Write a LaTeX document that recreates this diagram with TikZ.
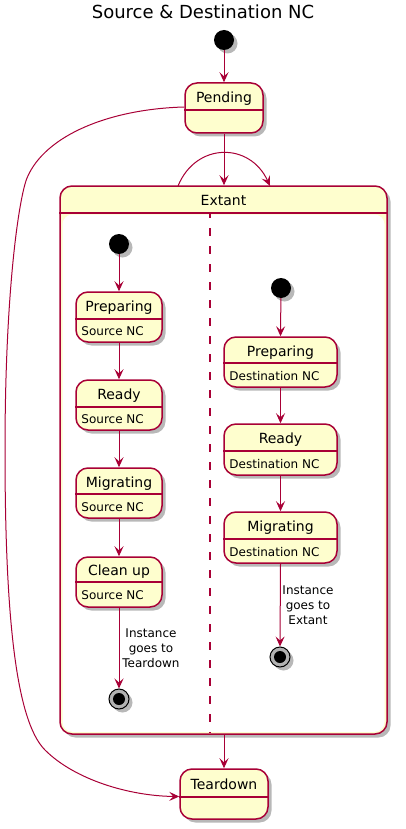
\documentclass[tikz,border=0pt]{standalone}
\usepackage{fontspec}
\setmainfont{DejaVu Sans}
\usetikzlibrary{shadows,arrows.meta}
\definecolor{pfill}{HTML}{FEFECE}
\definecolor{pline}{HTML}{A80036}
\tikzset{
  shadowed/.style={drop shadow={shadow xshift=3.5pt, shadow yshift=-3.5pt, opacity=0.28, fill=black}},
  statebox/.style={draw=pline, line width=1.5pt, fill=pfill, rounded corners=12pt, inner sep=0pt, shadowed},
  initstate/.style={circle, fill=black, minimum size=20pt, inner sep=0pt, shadowed},
  finalstate/.style={circle, draw=black, line width=1pt, fill=black!30, minimum size=20pt, inner sep=0pt, shadowed},
  finaldot/.style={circle, fill=black, minimum size=12pt, inner sep=0pt},
  trans/.style={draw=pline, line width=1pt, -{Stealth[length=10pt,width=9pt,inset=4pt]}},
  sname/.style={font=\fontsize{14}{16}\selectfont, inner sep=0pt, anchor=base},
  sbody/.style={font=\fontsize{12}{14}\selectfont, inner sep=0pt, anchor=base west},
  lbl/.style={font=\fontsize{12}{15}\selectfont, align=center, inner sep=0pt},
  sepline/.style={draw=pline, line width=1.2pt, dash pattern=on 8pt off 10pt, dash phase=4pt}
}
% name, cx, top, bottom, width, header y, title, body
\newcommand\stbox[8]{%
  \pgfmathsetmacro\stcy{(#3+#4)/2}%
  \pgfmathsetmacro\sthh{#4-#3}%
  \pgfmathsetmacro\stty{(#3+#6)/2+6}%
  \pgfmathsetmacro\stby{(#6+#4)/2+5}%
  \node[statebox, minimum width=#5pt, minimum height=\sthh pt] (#1) at (#2,\stcy) {};
  \draw[pline, line width=1.5pt] (#1.west |- 0,#6) -- (#1.east |- 0,#6);
  \node[sname] (#1-t) at (#2,\stty) {#7};
  \node[sbody] (#1-b) at ([xshift=6pt]#1.west |- 0,\stby) {#8};
}
\begin{document}
\begin{tikzpicture}[x=1pt,y=-1pt]
\useasboundingbox (0,0) rectangle (406,829);
% title
\node[font=\fontsize{18}{20}\selectfont, inner sep=0pt, anchor=base] (title) at (203,18.5) {Source \& Destination NC};

% top level
\node[initstate] (start) at (224,40) {};
\stbox{pending}{224}{83}{133}{78}{110}{Pending}{}

% Extant composite
\node[statebox, minimum width=327pt, minimum height=548pt] (extant) at (223.5,460) {};
\draw[pline, line width=1.5pt] (extant.west |- 0,213) -- (extant.east |- 0,213);
\fill[white, rounded corners=10pt] (62.5,214.5) rectangle (384.5,731.8);
\node[sname] (extant-t) at (223.5,205.5) {Extant};
\coordinate (septop) at (210,214);
\coordinate (sepbot) at (210,733);
\draw[sepline] (septop) -- (sepbot);

\stbox{teardown}{224}{769}{819}{88}{797}{Teardown}{}

% left region
\node[initstate] (lstart) at (119,244) {};
\stbox{lprep}{119}{292}{342}{86}{319}{Preparing}{Source NC}
\stbox{lready}{119}{380}{430}{86}{407}{Ready}{Source NC}
\stbox{lmig}{119}{468}{518}{86}{494}{Migrating}{Source NC}
\stbox{lclean}{119}{557}{607}{86}{582}{Clean up}{Source NC}
\node[finalstate] (lend) at (119,699) {};
\node[finaldot] (lendd) at (lend) {};

% right region
\node[initstate] (rstart) at (281,288) {};
\stbox{rprep}{280.5}{337}{387}{113}{363}{Preparing}{Destination NC}
\stbox{rready}{280.5}{424}{475}{113}{451}{Ready}{Destination NC}
\stbox{rmig}{280.5}{512}{563}{113}{539}{Migrating}{Destination NC}
\node[finalstate] (rend) at (280,657) {};
\node[finaldot] (rendd) at (rend) {};

% transitions
\draw[trans] (start) -- (pending.north);
\draw[trans] (pending.south) -- (pending.south |- extant.north);
\coordinate (loopa) at (178,186);
\coordinate (loopb) at (270,186);
\draw[trans] (loopa) .. controls (196,142) and (250,142) .. (loopb);
\draw[trans] (pending.west |- 0,107) .. controls (110,109) and (45,135) .. (27,178)
   .. controls (19,198) and (5,290) .. (5,450)
   .. controls (5,610) and (15,720) .. (45,750)
   .. controls (75,780) and (130,796) .. (teardown.west |- 0,796.5);
\draw[trans] (extant.south -| teardown.north) -- (teardown.north);

\draw[trans] (lstart) -- (lprep.north);
\draw[trans] (lprep.south) -- (lready.north);
\draw[trans] (lready.south) -- (lmig.north);
\draw[trans] (lmig.south) -- (lclean.north);
\draw[trans] (lclean.south) -- (lend.north);
\node[lbl] (llbl) at (151,648.7) {Instance\\goes to\\Teardown};

\draw[trans] (rstart) -- (rprep.north);
\draw[trans] (rprep.south) -- (rready.north);
\draw[trans] (rready.south) -- (rmig.north);
\draw[trans] (rmig.south) -- (rend.north);
\node[lbl] (rlbl) at (308,605.5) {Instance\\goes to\\Extant};
\end{tikzpicture}
\end{document}
